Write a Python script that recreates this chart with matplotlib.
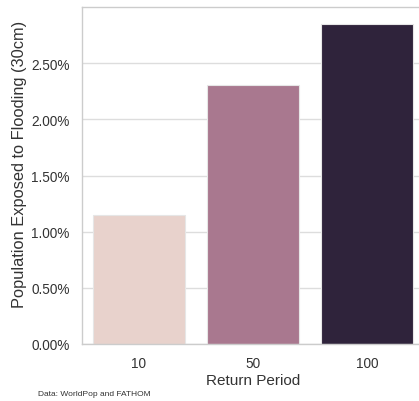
import matplotlib
matplotlib.use("Agg")
import matplotlib.pyplot as plt
from matplotlib.ticker import FuncFormatter

# values
periods = ["10", "50", "100"]
exposed = [1.15, 2.31, 2.85]   # percent of population
bar_colors = ["#e8d2cc", "#a9788f", "#2f233b"]

plt.rcParams['font.family'] = ['Liberation Sans', 'DejaVu Sans']

fig = plt.figure(figsize=(4.19, 4.02), dpi=100)
ax = fig.add_axes([82 / 419, 1 - 345 / 402, 342 / 419, 337 / 402])

ax.set_axisbelow(True)
ax.grid(axis='y', color='#dddddd', linewidth=1)
ax.bar(range(len(periods)), exposed, width=0.8, color=bar_colors,
       edgecolor='#e6e6e6', linewidth=0.8)

ax.set_xlim(-0.5, len(periods) - 0.5)
ax.set_ylim(0, 3.0)
ax.set_yticks([0, 0.5, 1.0, 1.5, 2.0, 2.5])
ax.yaxis.set_major_formatter(FuncFormatter(lambda v, p: "%.2f%%" % v))
ax.set_xticks(range(len(periods)))
ax.set_xticklabels(periods)

for s in ax.spines.values():
    s.set_color('#cccccc')
    s.set_linewidth(1)
ax.spines['right'].set_visible(False)
ax.tick_params(length=0, labelsize=9.8, colors='#333333', pad=9)

ax.set_xlabel("Return Period", fontsize=11, color='#333333', labelpad=2)
ax.set_ylabel("Population Exposed to Flooding (30cm)", fontsize=11.8,
              color='#333333')
ax.yaxis.set_label_coords(-(82 - 27) / 342, (345 - 164) / 337)

fig.text(38 / 419, 1 - 395 / 402, "Data: WorldPop and FATHOM", fontsize=6,
         color='#333333', va='center')

fig.savefig("out.png", dpi=100)
